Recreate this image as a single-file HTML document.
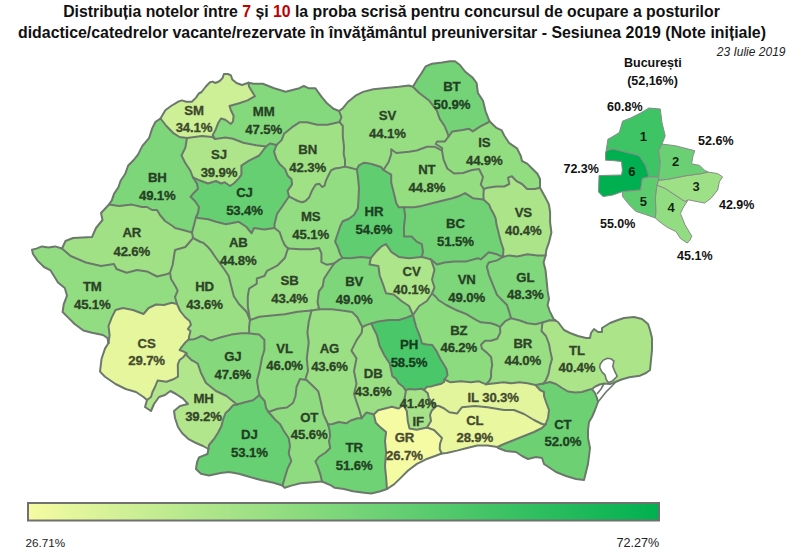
<!DOCTYPE html>
<html><head><meta charset="utf-8"><style>
html,body{margin:0;padding:0;background:#fff;}
body{width:789px;height:549px;overflow:hidden;position:relative;}
.t{position:absolute;left:0;width:789px;text-align:center;font:bold 15.8px "Liberation Sans",Arial,sans-serif;color:#111;white-space:nowrap;}
.t b{color:#c00000;}
svg{position:absolute;left:0;top:0;}
</style></head><body>
<div class="t" style="top:3px;left:-3px">Distribuția notelor între <b>7</b> și <b>10</b> la proba scrisă pentru concursul de ocupare a posturilor</div>
<div class="t" style="top:24px;left:-2.5px;font-size:15.9px">didactice/catedrelor vacante/rezervate în învăţământul preuniversitar - Sesiunea 2019 (Note inițiale)</div>
<svg width="789" height="549" viewBox="0 0 789 549">
<defs><linearGradient id="lg" x1="0" x2="1" y1="0" y2="0"><stop offset="0" stop-color="rgb(245, 251, 162)"/><stop offset="1" stop-color="rgb(0, 176, 80)"/></linearGradient></defs>
<g stroke="none">
<path d="M160.5,118.5 165.3,110.2 171,106 177.9,101.8 182,100.4 186.2,101.8 191.8,101.8 196,97.6 198.8,93.5 201.6,92 205.8,86.5 210,82.3 212.7,81.6 215.5,83 219.7,81 222.5,78.1 223.9,74 228,74 230.9,75.3 232.3,79.5 236.5,83 242,85 248.4,82.7 249,86.5 253.2,93.5 255,96.2 247.6,100.4 239.2,103.2 229.5,106 230.9,110.2 233.6,115.8 233,121.3 230.9,124 225.3,119.8 221,118.5 218.3,122.7 215.5,130 212.7,135 215,139 212,137 202,136 187,138 179.5,137 173,132.8 166.4,126Z" fill="#cdef95"/>
<path d="M248.4,82.7 253.7,83.7 262.8,83.7 274.2,88.2 285.6,91.7 299.3,88.2 303.8,86 308.4,88.2 315.3,88.2 318.7,92.8 322,97.4 326.7,103 333.5,108.8 339,111 341.5,117.2 339.5,122 327.5,124.8 317.3,124.8 307,122.3 299.4,122.3 291.8,127.4 284.1,133.7 281.6,140.1 276.5,145 270,143.5 266,146.5 256,145.2 243.3,142.7 233,138.8 225.5,137.6 215,139 212.7,135 215.5,130 218.3,122.7 221,118.5 225.3,119.8 230.9,124 233,121.3 233.6,115.8 230.9,110.2 229.5,106 239.2,103.2 247.6,100.4 255,96.2 253.2,93.5 249,86.5Z" fill="#85d97d"/>
<path d="M339,111 342.7,108.4 347.8,102 355.5,95.7 363,91.9 373.3,89.3 386,88 398.8,86.8 409,85.5 412.9,86.8 419.2,93 429.4,100.8 437,111 439.6,118.6 444.7,126.3 447.3,132.7 448.6,136.5 444.7,141.6 437,141.6 435.8,144 442.2,148 442,150.5 434.5,146.7 426.9,146.7 416.7,150.5 409,151.8 396.3,153 391.2,149.2 391.2,154.3 388.6,162 383.5,170 381,167 373.3,164.5 369.2,163.4 364.1,162.7 359,165.3 356.8,169.5 355.2,169.1 350.1,167.8 345,166.6 345,160.2 343.7,153.8 344,146.5 342.8,136.3 342.8,126 339.5,122 341.5,117.2Z" fill="#97de83"/>
<path d="M412.9,86.8 416.7,80.4 421.8,72.7 425.6,66.4 432,63.8 442.2,62.5 449.8,61.3 455,61.3 460,65 465,71.5 472.8,77.8 476.6,83 477.9,93 483,100.8 485.5,111 489.5,121.3 488,122.5 480.4,126.3 472.8,131.4 469,128.8 462.6,130 452.4,131.4 448.6,136.5 447.3,132.7 444.7,126.3 439.6,118.6 437,111 429.4,100.8 419.2,93Z" fill="#73d376"/>
<path d="M489.5,121.3 496.5,127.9 501.7,130.4 504.2,135.5 509.3,143.2 517,148.3 520.8,156 522,161 527.2,163.6 532.3,168.7 537.4,173.8 540,179 540,187.8 534.8,189 527.2,189 522,184 517,181.4 514.4,179 511.9,176.3 508,177.6 509.3,184 504.2,186.5 496.5,186.5 487.6,187.8 483.8,189 480.8,184.5 483,177 479,169 472,170 463,173 454,173.5 447.3,168.5 443.5,159.4 442,150.5 442.2,148 435.8,144 437,141.6 444.7,141.6 448.6,136.5 452.4,131.4 462.6,130 469,128.8 472.8,131.4 480.4,126.3 488,122.5Z" fill="#93dd81"/>
<path d="M383.5,170 388.6,162 391.2,154.3 391.2,149.2 396.3,153 409,151.8 416.7,150.5 426.9,146.7 434.5,146.7 442,150.5 443.5,159.4 447.3,168.5 454,173.5 463,173 472,170 479,169 483,177 480.8,184.5 483.8,189 483.5,194 483.5,199.5 472.8,198.2 465.1,193.1 460,195.7 452.4,198.2 442.2,200.8 432,203.3 421.8,205.9 414,207.2 404,207.2 398.8,207.2 396.3,203.3 393.7,192.6 391.2,182.4 391.2,174.7Z" fill="#94dd81"/>
<path d="M540,187.8 545,196.8 548.9,204.4 550.1,212 550.1,222.3 551.4,232.5 548.9,242.7 546.3,250 545.6,255.4 537.5,255.4 527.4,254.3 517.2,256.4 509,255.4 503,257 503.4,249.2 500.8,241.6 499.1,235 498.3,231.4 496.5,224.8 495.7,218.6 494,214.6 490.6,208.4 489,204.4 483.5,199.5 483.5,194 483.8,189 487.6,187.8 496.5,186.5 504.2,186.5 509.3,184 508,177.6 511.9,176.3 514.4,179 517,181.4 522,184 527.2,189 534.8,189Z" fill="#abe489"/>
<path d="M109,204.5 111.8,200.4 114,193.9 118.4,187.3 120.6,180.8 125,174.3 128.2,165.5 133.7,160 138,154.6 142.4,145.9 149,138.2 152.2,128.4 155.5,121.8 160.5,118.5 166.4,126 173,132.8 179.5,137 187,138 185.3,147.8 181.5,155.5 185.3,163 190.4,170.8 193,177.5 197,183.6 198,188.7 193,193.8 190.5,196.8 195,201 199,207 198,213 196,217 194,225 192,232.5 183,230 175,228 172.6,226 165,221 160,215 157,210 152,210 147,207 142,207 132,204.6 119,206Z" fill="#7dd67a"/>
<path d="M187,138 202,136 212,137 215,139 225.5,137.6 233,138.8 243.3,142.7 256,145.2 266,146.5 259.2,155.5 249,160.6 241.4,165.7 241.4,174.6 238.8,178.4 233.7,183.5 230,186 224.8,182.3 221,183.5 216,181 208,183.5 198,179.7 193,177.5 190.4,170.8 185.3,163 181.5,155.5 185.3,147.8Z" fill="#aee58a"/>
<path d="M193,177.5 198,179.7 208,183.5 216,181 221,183.5 224.8,182.3 230,186 233.7,183.5 238.8,178.4 241.4,174.6 241.4,165.7 249,160.6 259.2,155.5 266,146.5 270,143.5 276.5,145 274,151.6 276.5,159.2 280,164.5 282.5,166.6 285.1,169.1 287.6,175.5 291.5,179.3 292.1,184.4 287.6,190.8 289,196.5 282.2,206.5 277,214 274.5,224.3 274.5,228 264.3,229.4 254,228 251.6,233.3 246.5,227 238.8,221.8 226,224.3 216,221.8 208.2,219.2 198,218 196,217 198,213 199,207 195,201 190.5,196.8 193,193.8 198,188.7 197,183.6Z" fill="#65cf72"/>
<path d="M276.5,145 281.6,140.1 284.1,133.7 291.8,127.4 299.4,122.3 307,122.3 317.3,124.8 327.5,124.8 339.5,122 342.8,126 342.8,136.3 344,146.5 343.7,153.8 345,160.2 345,166.6 339.9,167.8 334.8,168.5 331,170.4 328.4,175.5 325.9,180.6 324.6,185.7 322,187 319.5,183.8 315.7,184.4 311.9,190.8 309.3,197.2 305.5,201 302.3,202.3 297.8,201 292.7,198.4 289,196.5 287.6,190.8 292.1,184.4 291.5,179.3 287.6,175.5 285.1,169.1 282.5,166.6 280,164.5 276.5,159.2 274,151.6Z" fill="#a1e186"/>
<path d="M289,196.5 292.7,198.4 297.8,201 302.3,202.3 305.5,201 309.3,197.2 311.9,190.8 315.7,184.4 319.5,183.8 322,187 324.6,185.7 325.9,180.6 328.4,175.5 331,170.4 334.8,168.5 339.9,167.8 345,166.6 350.1,167.8 355.2,169.1 356.8,169.5 357.8,175.5 359,188.2 358.4,201 357.8,208.6 354,215 348.5,219 342.7,221.2 340.2,226.3 337.6,234 335.1,241.6 337.6,246.7 340.2,254.3 342.5,258 339.3,259.6 334.2,263.4 326.6,264.7 321.4,262.1 321.4,253.2 319,248 311.2,249.3 301,249.3 288,248.5 284.7,245 282.2,239.6 279.6,232 274.5,228 274.5,224.3 277,214 282.2,206.5Z" fill="#92dd81"/>
<path d="M356.8,169.5 359,165.3 364.1,162.7 369.2,163.4 373.3,164.5 381,167 383.5,170 391.2,174.7 391.2,182.4 393.7,192.6 396.3,203.3 398.8,207.2 404,207.2 405.2,216 404,226.3 404,236.5 411.6,236.5 416.7,241.6 421.8,244.1 423,251.8 421.8,257 409,258.2 398.8,256.9 391.2,251.8 386,244.1 381,246.7 376,251.8 370.8,258 360.6,256.9 350.4,258.2 342.5,258 340.2,254.3 337.6,246.7 335.1,241.6 337.6,234 340.2,226.3 342.7,221.2 348.5,219 354,215 357.8,208.6 358.4,201 359,188.2 357.8,175.5Z" fill="#5fcd70"/>
<path d="M404,207.2 414,207.2 421.8,205.9 432,203.3 442.2,200.8 452.4,198.2 460,195.7 465.1,193.1 472.8,198.2 483.5,199.5 489,204.4 490.6,208.4 494,214.6 495.7,218.6 496.5,224.8 498.3,231.4 499.1,235 500.8,241.6 503.4,249.2 503,257 497,254.3 488.8,252.3 480.7,259.4 477.9,258.2 466.5,261.4 454.3,261.4 444.7,262.5 437,264.5 431,259.5 426.9,258.2 421.8,257 423,251.8 421.8,244.1 416.7,241.6 411.6,236.5 404,236.5 404,226.3 405.2,216Z" fill="#70d275"/>
<path d="M62,248.5 65.5,241 73,238 92,237 96,228 102.5,220 101,213 109,204.5 119,206 132,204.6 142,207 147,207 152,210 157,210 160,215 165,221 172.6,226 175,228 183,230 192,232.5 193,238 191.8,239.5 185.4,247 175,250 174,256 172.6,265 170,272.7 167.5,274 157,276.5 147,271.4 137,270 126.7,272.7 116.5,269 114,264 101,266 86,262.5 70.6,256Z" fill="#a0e185"/>
<path d="M196,217 198,218 208.2,219.2 216,221.8 226,224.3 238.8,221.8 246.5,227 251.6,233.3 254,228 264.3,229.4 274.5,228 279.6,232 282.2,239.6 284.7,245 288,248.5 284.8,258 277.2,265.7 272,268.3 267,270.8 264.4,276 256.8,278.5 256.8,283.6 249.1,288.7 247.8,296.3 247.8,306.5 250,320 246.5,311.7 238.9,304 233.8,296.3 231.2,286.1 228.7,276 223.6,268.3 216,258 210.8,250.4 208.2,247.3 203.2,242.8 200.6,242 193,238 192,232.5 194,225Z" fill="#94dd81"/>
<path d="M288,248.5 301,249.3 311.2,249.3 319,248 321.4,253.2 321.4,262.1 326.6,264.7 334.2,263.4 329,271 324,278.7 322.7,286.3 318.9,291.4 317.6,301.7 319,309.3 311.5,310.5 297.6,311.7 284.8,314.2 272,315.5 259.3,316.8 250,320 247.8,306.5 247.8,296.3 249.1,288.7 256.8,283.6 256.8,278.5 264.4,276 267,270.8 272,268.3 277.2,265.7 284.8,258Z" fill="#9be084"/>
<path d="M334.2,263.4 339.3,259.6 342.5,258 350.4,258.2 360.6,256.9 370.8,258 369.5,264.5 378.4,266 379.7,275.5 383.5,285.7 386,293.3 393.7,294.6 401.4,301 409,306 413,315 406.5,317.6 398.8,320 388.6,320 378.4,321.4 371.5,323.5 367.4,324.6 362.3,327 359.7,322 357.2,317 352,311.9 341.9,310.6 331.7,309.3 319,309.3 317.6,301.7 318.9,291.4 322.7,286.3 324,278.7 329,271Z" fill="#7dd67a"/>
<path d="M370.8,258 376,251.8 381,246.7 386,244.1 391.2,251.8 398.8,256.9 409,258.2 421.8,257 426.9,258.2 431,259.5 434.5,269.6 432,279.8 434.5,287.5 432,293.5 426.9,301 419.2,306 413,315 409,306 401.4,301 393.7,294.6 386,293.3 383.5,285.7 379.7,275.5 378.4,266 369.5,264.5Z" fill="#ade58a"/>
<path d="M431,259.5 437,264.5 444.7,262.5 454.3,261.4 466.5,261.4 477.9,258.2 480.7,259.4 488.8,252.3 497,254.3 503,257 497,260.4 488.8,262.5 486.8,266.5 488.8,274.6 492.9,284.8 497,294.9 503,301 507,305 509,311.1 511,318.2 505,321.3 500,327 497,325.3 490.9,323.3 480.7,322.3 474.6,319.2 466.8,314.3 456.7,310.3 446.2,305 438.4,300 436,297 432,293.5 434.5,287.5 432,279.8 434.5,269.6Z" fill="#7dd67a"/>
<path d="M503,257 509,255.4 517.2,256.4 527.4,254.3 537.5,255.4 545.6,255.4 543.6,262.5 545.6,270.6 546.6,280.7 547.6,290.9 549,299 547.6,305 549.7,311.1 553.7,319.2 555.5,320.5 549.7,320.3 542.5,322.5 535.5,324.3 527.4,323.3 519.2,320.3 511,318.2 509,311.1 507,305 503,301 497,294.9 492.9,284.8 488.8,274.6 486.8,266.5 488.8,262.5 497,260.4Z" fill="#81d77b"/>
<path d="M108.5,343 107.4,338 103,335 92,332.7 83.4,330.5 74.6,324 68,317.4 62.6,312 63.7,304.3 67,295.6 64.8,288 58,282.5 54,276 50.6,270.4 44,267 37.5,260.6 33,254 32,249.7 36.4,248.6 41.9,246.4 48.4,247.5 55,246.4 62,248.5 70.6,256 86,262.5 101,266 114,264 116.5,269 126.7,272.7 137,270 147,271.4 157,276.5 167.5,274 170,272.7 171,279 175,285.5 177.7,290.6 175,297 177,304 171.6,302.7 164,305 156,304.5 148.6,308 143.5,314 133,310 123,308 115.5,310 111.8,317.4 108.5,326 109.6,335Z" fill="#92dd81"/>
<path d="M170,272.7 172.6,265 174,256 175,250 185.4,247 191.8,239.5 193,238 200.6,242 203.2,242.8 208.2,247.3 210.8,250.4 216,258 223.6,268.3 228.7,276 231.2,286.1 233.8,296.3 238.9,304 246.5,311.7 250,320 249.1,327 249.1,333.3 241.4,333.3 231.2,334.6 221,337.2 215,339.1 211.4,340.5 208.7,339.6 204.2,336.8 201.4,336 196.9,338.2 192.3,339.6 188.7,339.6 189.1,336.4 190.5,331 187.8,329 191,324.6 189.6,321 185,317 180.2,311 177,304 175,297 177.7,290.6 175,285.5 171,279Z" fill="#9adf84"/>
<path d="M147,400 143.5,397 136,392 125.7,389 115.5,384 105,376.7 100,371.6 101.5,359 105,348.6 108.5,343 109.6,335 108.5,326 111.8,317.4 115.5,310 123,308 133,310 143.5,314 148.6,308 156,304.5 164,305 171.6,302.7 177,304 180.2,311 185,317 189.6,321 191,324.6 187.8,329 190.5,331 189.1,336.4 188.7,339.6 185,342.8 181.4,347.3 179.6,350 183.2,351.4 186.4,353.2 183.2,357.3 179.6,360 177.8,364.6 178,376.7 174,379 166.5,381.8 157.6,380.5 155,387 152.5,392 151,397Z" fill="#e5f69d"/>
<path d="M188.7,339.6 192.3,339.6 196.9,338.2 201.4,336 204.2,336.8 208.7,339.6 211.4,340.5 215,339.1 221,337.2 231.2,334.6 241.4,333.3 249.1,333.3 259.3,334.6 264.4,339.7 264.4,350 262,357.8 259.6,370.6 257,380.8 258.4,390 259.5,395 253,400.3 243,402.8 237,404.5 226.5,396 216,391 206,383 201,373 197.8,363.7 194.1,361.4 191.4,360 186.9,355.5 186.4,353.2 183.2,351.4 179.6,350 181.4,347.3 185,342.8Z" fill="#85d97c"/>
<path d="M186.4,353.2 186.9,355.5 191.4,360 194.1,361.4 197.8,363.7 201,373 206,383 216,391 226.5,396 237,404.5 233,405.3 229,410 225.6,413 223,419.7 221.5,426 218,432.8 214,439 209,445 208.4,449 203,446 196,443 189,439.4 182,433 178,427 175,418 174,411 180,406 188,404 183,398.6 176,394 170.4,391 165,395 159,397 154,404 151,411 145,407 147,400 151,397 152.5,392 155,387 157.6,380.5 166.5,381.8 174,379 178,376.7 177.8,364.6 179.6,360 183.2,357.3Z" fill="#b2e68c"/>
<path d="M250,320 259.3,316.8 272,315.5 284.8,314.2 297.6,311.7 311.5,310.5 308.7,322 307.4,332.3 308.7,342.5 306.8,358.3 308,371 305.5,378.7 306.5,380 300,379 296.5,387 295.5,396 293,403 287,407.5 277.5,408.8 268.5,412 266,408 264.7,401 260.5,396.5 259.5,395 258.4,390 257,380.8 259.6,370.6 262,357.8 264.4,350 264.4,339.7 259.3,334.6 249.1,333.3 249.1,327Z" fill="#8ddb7f"/>
<path d="M311.5,310.5 319,309.3 331.7,309.3 341.9,310.6 352,311.9 357.2,317 359.7,322 362.3,327 361.7,332.8 356.5,340.4 351.4,350.6 356.5,358.3 354,371 356.5,383.8 354,394 356.5,401.7 359.1,409.3 361.7,418.2 357.6,418.3 350.7,420.5 346.3,423.3 338.7,422 332.5,424 328,424.5 326,420 323.4,414.4 320.8,401.7 318.3,391.4 313.2,386.3 306.5,380 305.5,378.7 308,371 306.8,358.3 308.7,342.5 307.4,332.3 308.7,322Z" fill="#9adf84"/>
<path d="M362.3,327 367.4,324.6 371.5,323.5 371.9,325.1 377,335.3 379.5,345.5 384.6,355.7 389.7,363.4 392.3,376.1 395.9,378.6 398.6,383.2 403.2,386.8 405.5,390 405.9,391.4 405,396 403.5,405 398.6,408.5 391.8,406.8 385,408.5 378.1,410.3 373.8,414.5 371.3,413.7 366.5,412.5 361.7,418.2 359.1,409.3 356.5,401.7 354,394 356.5,383.8 354,371 356.5,358.3 351.4,350.6 356.5,340.4 361.7,332.8Z" fill="#9adf84"/>
<path d="M371.5,323.5 378.4,321.4 388.6,320 398.8,320 406.5,317.6 413,315 416,326.5 420,336.7 422,343.5 427,344.5 432.3,345 436.4,350.9 440.4,359 443.5,364 446.5,369 447.5,375.2 444.5,379.5 444.1,381.8 440.5,384.1 436,385 431.4,386.4 426.9,386.8 424,390 421.4,388.7 415,389.6 409.6,389.1 405.5,390 403.2,386.8 398.6,383.2 395.9,378.6 392.3,376.1 389.7,363.4 384.6,355.7 379.5,345.5 377,335.3 371.9,325.1Z" fill="#4ac769"/>
<path d="M413,315 419.2,306 426.9,301 432,293.5 436,297 438.4,300 446.2,305 456.7,310.3 466.8,314.3 474.6,319.2 480.7,322.3 490.9,323.3 497,325.3 500,327 500.3,332.6 497.2,338.7 491.1,340.7 485,340.7 481,344.8 482,348.8 487.1,352.9 491.1,357 492.2,365 491.1,371.1 491.1,377.2 489.1,381.3 486,384.3 479,381.3 470.9,382.3 460.7,381.3 450.6,382.3 444.5,379.5 447.5,375.2 446.5,369 443.5,364 440.4,359 436.4,350.9 432.3,345 427,344.5 422,343.5 420,336.7 416,326.5Z" fill="#8cdb7f"/>
<path d="M500,327 505,321.3 511,318.2 519.2,320.3 527.4,323.3 535.5,324.3 542.5,322.5 541.5,331 546,336 549,344 550.5,352 552,359 550,366 548.5,374 546,380 543.5,383.5 535.5,385 527.6,383.3 519.5,382.3 511.4,383.3 503.3,382.3 495.2,383.3 486,384.3 489.1,381.3 491.1,377.2 491.1,371.1 492.2,365 491.1,357 487.1,352.9 482,348.8 481,344.8 485,340.7 491.1,340.7 497.2,338.7 500.3,332.6Z" fill="#98df83"/>
<path d="M542.5,322.5 549.7,320.3 555.5,320.5 558,322 564,330 570,333 578,336 586,338 590,338 591,333 594,329 598,332 602,332 602,328 610,323 618,320 624,318 634,317 642,319 648,324 650,330 652,338 652,350 651,360 650,370 646,373 640,375.7 629.2,377.3 621.5,379.5 616,381.7 610.6,383.9 604,383.5 599.7,384.5 595.3,386.5 592,389 588,390 582,392 575,392.5 568,391.5 562,388 556,384 550,382 543.5,383.5 546,380 548.5,374 550,366 552,359 550.5,352 549,344 546,336 541.5,331Z" fill="#abe489"/>
<path d="M543.5,383.5 550,382 556,384 562,388 568,391.5 575,392.5 582,392 588,390 592,389 595,393 597,398 598,402 595,410 592,417 589,422 588,430 588,438 590,448 589,456 588,464 586,472 584,480 576,479 566,476 556,472 550,468 544,464 542,458 536,457 528,459 522,456 516,452 506,451 498,448 497.5,447 504,444 514,440 524,436 534,432 542,428 545.5,424.5 548,418 549,410 546,402 544,396 544,392 540,390 535.5,385Z" fill="#6dd174"/>
<path d="M424,390 426.9,386.8 431.4,386.4 436,385 440.5,384.1 444.1,381.8 444.5,379.5 450.6,382.3 460.7,381.3 470.9,382.3 479,381.3 486,384.3 495.2,383.3 503.3,382.3 511.4,383.3 519.5,382.3 527.6,383.3 535.5,385 540,390 544,392 544,396 546,402 549,410 548,418 545.5,424.5 542,424 534,420 524,414 514,410 504,410 492,408 487.6,407.2 474.8,406 462,407.2 457,413.6 449.3,412.3 444.2,408.5 439,406 436.5,406 432.3,403.2 428.7,397.8 427.8,393.2Z" fill="#e2f59c"/>
<path d="M436.5,406 439,406 444.2,408.5 449.3,412.3 457,413.6 462,407.2 474.8,406 487.6,407.2 492,408 504,410 514,410 524,414 534,420 542,424 545.5,424.5 542,428 534,432 524,436 514,440 504,444 497.5,447 487.6,445.5 477.3,445.5 467.1,448 457,450.6 446.7,453 441.6,453.5 439.7,449 440,444 442,438 434,430 427,427.5 431,421 430,415 431.8,410.4Z" fill="#e9f79e"/>
<path d="M405.5,390 409.6,389.1 415,389.6 421.4,388.7 424,390 427.8,393.2 428.7,397.8 432.3,403.2 436.5,406 431.8,410.4 430,415 431,421 427,427.5 416.6,429.8 409.5,428.5 407.8,421.2 406.8,411 403.5,405 405,396 405.9,391.4Z" fill="#a6e388"/>
<path d="M373.8,414.5 378.1,410.3 385,408.5 391.8,406.8 398.6,408.5 403.5,405 406.8,411 407.8,421.2 409.5,428.5 416.6,429.8 427,427.5 434,430 442,438 440,444 439.7,449 441.6,453.5 435.1,456 426,459.3 416.9,463.9 407.8,470.7 401,477.6 394,484.4 387,489 386.1,477.6 385,466.2 386.1,452.5 385,441 386.1,432 380.4,427.4 375.8,422.8Z" fill="#f5fba2"/>
<path d="M361.7,418.2 366.5,412.5 371.3,413.7 373.8,414.5 375.8,422.8 380.4,427.4 386.1,432 385,441 386.1,452.5 385,466.2 386.1,477.6 387,489 380.4,491.3 371.3,493.5 362.1,492.4 353,491.3 343.9,489 334.8,487.8 331,485.3 322,481.5 320.4,474.6 317.8,466.6 315.4,461.6 318.8,457 325.6,452.5 330.2,448 329,441 330.2,436 329.5,430 328,424.5 332.5,424 338.7,422 346.3,423.3 350.7,420.5 357.6,418.3Z" fill="#6fd275"/>
<path d="M306.5,380 313.2,386.3 318.3,391.4 320.8,401.7 323.4,414.4 326,420 328,424.5 329.5,430 330.2,436 329,441 330.2,448 325.6,452.5 318.8,457 315.4,461.6 317.8,466.6 320.4,474.6 322,481.5 309.8,482.6 300.5,483.3 291.4,485.6 284.6,487.8 282.5,485.5 283.7,481.4 287.5,468.7 291.3,461 288.7,453.5 290,446 288.7,438.3 283.7,430.7 280,424 276,420.6 272.4,416.5 268.5,412 277.5,408.8 287,407.5 293,403 295.5,396 296.5,387 300,379Z" fill="#8fdc80"/>
<path d="M237,404.5 243,402.8 253,400.3 259.5,395 260.5,396.5 264.7,401 266,408 268.5,412 272.4,416.5 276,420.6 280,424 283.7,430.7 288.7,438.3 290,446 288.7,453.5 291.3,461 287.5,468.7 283.7,481.4 282.5,485.5 273.5,482.7 260.8,480 250,477 238.7,473.8 229,472 220.7,473 209,475.4 201,473.8 196,469 197,462.3 199,457.4 207.5,454 208.4,449 209,445 214,439 218,432.8 221.5,426 223,419.7 225.6,413 229,410 233,405.3Z" fill="#67d073"/>
</g>
<g fill="#fff" stroke="#6c786c" stroke-width="1.6" stroke-linejoin="round"><path d="M600.2,364.2 L603,360.4 L607.3,358.2 L610.6,358.7 L613.9,361 L612.8,366.4 L615,371.9 L617.2,376.2 L612.8,380.6 L608.4,382.8 L606.2,379.5 L605.1,375.1 L601.9,371.9 L599.7,367.5Z"/>
<path fill="none" d="M616,381.7 L611,387 L606,392 L602,397 L598,402"/>
<path fill="none" d="M604,383.5 L601,389 L597,394"/></g>
<g fill="none" stroke="#6c786c" stroke-width="2" stroke-linejoin="round" stroke-linecap="round">
<path d="M160.5,118.5 165.3,110.2 171,106 177.9,101.8 182,100.4 186.2,101.8 191.8,101.8 196,97.6 198.8,93.5 201.6,92 205.8,86.5 210,82.3 212.7,81.6 215.5,83 219.7,81 222.5,78.1 223.9,74 228,74 230.9,75.3 232.3,79.5 236.5,83 242,85 248.4,82.7"/>
<path d="M248.4,82.7 253.7,83.7 262.8,83.7 274.2,88.2 285.6,91.7 299.3,88.2 303.8,86 308.4,88.2 315.3,88.2 318.7,92.8 322,97.4 326.7,103 333.5,108.8 339,111"/>
<path d="M339,111 342.7,108.4 347.8,102 355.5,95.7 363,91.9 373.3,89.3 386,88 398.8,86.8 409,85.5 412.9,86.8"/>
<path d="M412.9,86.8 416.7,80.4 421.8,72.7 425.6,66.4 432,63.8 442.2,62.5 449.8,61.3 455,61.3 460,65 465,71.5 472.8,77.8 476.6,83 477.9,93 483,100.8 485.5,111 489.5,121.3"/>
<path d="M489.5,121.3 496.5,127.9 501.7,130.4 504.2,135.5 509.3,143.2 517,148.3 520.8,156 522,161 527.2,163.6 532.3,168.7 537.4,173.8 540,179 540,187.8"/>
<path d="M540,187.8 545,196.8 548.9,204.4 550.1,212 550.1,222.3 551.4,232.5 548.9,242.7 546.3,250 545.6,255.4"/>
<path d="M545.6,255.4 543.6,262.5 545.6,270.6 546.6,280.7 547.6,290.9 549,299 547.6,305 549.7,311.1 553.7,319.2 555.5,320.5"/>
<path d="M555.5,320.5 558,322 564,330 570,333 578,336 586,338 590,338 591,333 594,329 598,332 602,332 602,328 610,323 618,320 624,318 634,317 642,319 648,324 650,330 652,338 652,350 651,360 650,370 646,373 640,375.7 629.2,377.3 621.5,379.5 616,381.7 610.6,383.9 604,383.5 599.7,384.5 595.3,386.5 592,389"/>
<path d="M592,389 595,393 597,398 598,402 595,410 592,417 589,422 588,430 588,438 590,448 589,456 588,464 586,472 584,480 576,479 566,476 556,472 550,468 544,464 542,458 536,457 528,459 522,456 516,452 506,451 498,448 497.5,447"/>
<path d="M497.5,447 487.6,445.5 477.3,445.5 467.1,448 457,450.6 446.7,453 441.6,453.5"/>
<path d="M441.6,453.5 435.1,456 426,459.3 416.9,463.9 407.8,470.7 401,477.6 394,484.4 387,489"/>
<path d="M387,489 380.4,491.3 371.3,493.5 362.1,492.4 353,491.3 343.9,489 334.8,487.8 331,485.3 322,481.5"/>
<path d="M322,481.5 309.8,482.6 300.5,483.3 291.4,485.6 284.6,487.8 282.5,485.5"/>
<path d="M282.5,485.5 273.5,482.7 260.8,480 250,477 238.7,473.8 229,472 220.7,473 209,475.4 201,473.8 196,469 197,462.3 199,457.4 207.5,454 208.4,449"/>
<path d="M208.4,449 203,446 196,443 189,439.4 182,433 178,427 175,418 174,411 180,406 188,404 183,398.6 176,394 170.4,391 165,395 159,397 154,404 151,411 145,407 147,400"/>
<path d="M147,400 143.5,397 136,392 125.7,389 115.5,384 105,376.7 100,371.6 101.5,359 105,348.6 108.5,343"/>
<path d="M108.5,343 107.4,338 103,335 92,332.7 83.4,330.5 74.6,324 68,317.4 62.6,312 63.7,304.3 67,295.6 64.8,288 58,282.5 54,276 50.6,270.4 44,267 37.5,260.6 33,254 32,249.7 36.4,248.6 41.9,246.4 48.4,247.5 55,246.4 62,248.5"/>
<path d="M62,248.5 65.5,241 73,238 92,237 96,228 102.5,220 101,213 109,204.5"/>
<path d="M109,204.5 111.8,200.4 114,193.9 118.4,187.3 120.6,180.8 125,174.3 128.2,165.5 133.7,160 138,154.6 142.4,145.9 149,138.2 152.2,128.4 155.5,121.8 160.5,118.5"/>
<path d="M160.5,118.5 166.4,126 173,132.8 179.5,137 187,138"/>
<path d="M187,138 202,136 212,137 215,139"/>
<path d="M248.4,82.7 249,86.5 253.2,93.5 255,96.2 247.6,100.4 239.2,103.2 229.5,106 230.9,110.2 233.6,115.8 233,121.3 230.9,124 225.3,119.8 221,118.5 218.3,122.7 215.5,130 212.7,135 215,139"/>
<path d="M215,139 225.5,137.6 233,138.8 243.3,142.7 256,145.2 266,146.5"/>
<path d="M266,146.5 270,143.5 276.5,145"/>
<path d="M339.5,122 327.5,124.8 317.3,124.8 307,122.3 299.4,122.3 291.8,127.4 284.1,133.7 281.6,140.1 276.5,145"/>
<path d="M276.5,145 274,151.6 276.5,159.2 280,164.5 282.5,166.6 285.1,169.1 287.6,175.5 291.5,179.3 292.1,184.4 287.6,190.8 289,196.5"/>
<path d="M187,138 185.3,147.8 181.5,155.5 185.3,163 190.4,170.8 193,177.5"/>
<path d="M193,177.5 198,179.7 208,183.5 216,181 221,183.5 224.8,182.3 230,186 233.7,183.5 238.8,178.4 241.4,174.6 241.4,165.7 249,160.6 259.2,155.5 266,146.5"/>
<path d="M193,177.5 197,183.6 198,188.7 193,193.8 190.5,196.8 195,201 199,207 198,213 196,217"/>
<path d="M196,217 194,225 192,232.5"/>
<path d="M109,204.5 119,206 132,204.6 142,207 147,207 152,210 157,210 160,215 165,221 172.6,226 175,228 183,230 192,232.5"/>
<path d="M192,232.5 193,238"/>
<path d="M193,238 191.8,239.5 185.4,247 175,250 174,256 172.6,265 170,272.7"/>
<path d="M62,248.5 70.6,256 86,262.5 101,266 114,264 116.5,269 126.7,272.7 137,270 147,271.4 157,276.5 167.5,274 170,272.7"/>
<path d="M170,272.7 171,279 175,285.5 177.7,290.6 175,297 177,304"/>
<path d="M108.5,343 109.6,335 108.5,326 111.8,317.4 115.5,310 123,308 133,310 143.5,314 148.6,308 156,304.5 164,305 171.6,302.7 177,304"/>
<path d="M177,304 180.2,311 185,317 189.6,321 191,324.6 187.8,329 190.5,331 189.1,336.4 188.7,339.6"/>
<path d="M188.7,339.6 185,342.8 181.4,347.3 179.6,350 183.2,351.4 186.4,353.2"/>
<path d="M186.4,353.2 183.2,357.3 179.6,360 177.8,364.6 178,376.7 174,379 166.5,381.8 157.6,380.5 155,387 152.5,392 151,397 147,400"/>
<path d="M186.4,353.2 186.9,355.5 191.4,360 194.1,361.4 197.8,363.7 201,373 206,383 216,391 226.5,396 237,404.5"/>
<path d="M188.7,339.6 192.3,339.6 196.9,338.2 201.4,336 204.2,336.8 208.7,339.6 211.4,340.5 215,339.1 221,337.2 231.2,334.6 241.4,333.3 249.1,333.3"/>
<path d="M249.1,333.3 259.3,334.6 264.4,339.7 264.4,350 262,357.8 259.6,370.6 257,380.8 258.4,390 259.5,395"/>
<path d="M250,320 249.1,327 249.1,333.3"/>
<path d="M193,238 200.6,242 203.2,242.8 208.2,247.3 210.8,250.4 216,258 223.6,268.3 228.7,276 231.2,286.1 233.8,296.3 238.9,304 246.5,311.7 250,320"/>
<path d="M288,248.5 284.8,258 277.2,265.7 272,268.3 267,270.8 264.4,276 256.8,278.5 256.8,283.6 249.1,288.7 247.8,296.3 247.8,306.5 250,320"/>
<path d="M274.5,228 279.6,232 282.2,239.6 284.7,245 288,248.5"/>
<path d="M196,217 198,218 208.2,219.2 216,221.8 226,224.3 238.8,221.8 246.5,227 251.6,233.3 254,228 264.3,229.4 274.5,228"/>
<path d="M289,196.5 282.2,206.5 277,214 274.5,224.3 274.5,228"/>
<path d="M289,196.5 292.7,198.4 297.8,201 302.3,202.3 305.5,201 309.3,197.2 311.9,190.8 315.7,184.4 319.5,183.8 322,187 324.6,185.7 325.9,180.6 328.4,175.5 331,170.4 334.8,168.5 339.9,167.8 345,166.6"/>
<path d="M356.8,169.5 357.8,175.5 359,188.2 358.4,201 357.8,208.6 354,215 348.5,219 342.7,221.2 340.2,226.3 337.6,234 335.1,241.6 337.6,246.7 340.2,254.3 342.5,258"/>
<path d="M345,166.6 350.1,167.8 355.2,169.1 356.8,169.5"/>
<path d="M339.5,122 342.8,126 342.8,136.3 344,146.5 343.7,153.8 345,160.2 345,166.6"/>
<path d="M339,111 341.5,117.2 339.5,122"/>
<path d="M356.8,169.5 359,165.3 364.1,162.7 369.2,163.4 373.3,164.5 381,167 383.5,170"/>
<path d="M383.5,170 391.2,174.7 391.2,182.4 393.7,192.6 396.3,203.3 398.8,207.2 404,207.2"/>
<path d="M383.5,170 388.6,162 391.2,154.3 391.2,149.2 396.3,153 409,151.8 416.7,150.5 426.9,146.7 434.5,146.7 442,150.5"/>
<path d="M448.6,136.5 444.7,141.6 437,141.6 435.8,144 442.2,148 442,150.5"/>
<path d="M412.9,86.8 419.2,93 429.4,100.8 437,111 439.6,118.6 444.7,126.3 447.3,132.7 448.6,136.5"/>
<path d="M448.6,136.5 452.4,131.4 462.6,130 469,128.8 472.8,131.4 480.4,126.3 488,122.5 489.5,121.3"/>
<path d="M442,150.5 443.5,159.4 447.3,168.5 454,173.5 463,173 472,170 479,169 483,177 480.8,184.5 483.8,189"/>
<path d="M483.8,189 487.6,187.8 496.5,186.5 504.2,186.5 509.3,184 508,177.6 511.9,176.3 514.4,179 517,181.4 522,184 527.2,189 534.8,189 540,187.8"/>
<path d="M483.8,189 483.5,194 483.5,199.5"/>
<path d="M404,207.2 414,207.2 421.8,205.9 432,203.3 442.2,200.8 452.4,198.2 460,195.7 465.1,193.1 472.8,198.2 483.5,199.5"/>
<path d="M483.5,199.5 489,204.4 490.6,208.4 494,214.6 495.7,218.6 496.5,224.8 498.3,231.4 499.1,235 500.8,241.6 503.4,249.2 503,257"/>
<path d="M404,207.2 405.2,216 404,226.3 404,236.5 411.6,236.5 416.7,241.6 421.8,244.1 423,251.8 421.8,257"/>
<path d="M370.8,258 376,251.8 381,246.7 386,244.1 391.2,251.8 398.8,256.9 409,258.2 421.8,257"/>
<path d="M342.5,258 350.4,258.2 360.6,256.9 370.8,258"/>
<path d="M334.2,263.4 339.3,259.6 342.5,258"/>
<path d="M288,248.5 301,249.3 311.2,249.3 319,248 321.4,253.2 321.4,262.1 326.6,264.7 334.2,263.4"/>
<path d="M334.2,263.4 329,271 324,278.7 322.7,286.3 318.9,291.4 317.6,301.7 319,309.3"/>
<path d="M311.5,310.5 319,309.3"/>
<path d="M250,320 259.3,316.8 272,315.5 284.8,314.2 297.6,311.7 311.5,310.5"/>
<path d="M311.5,310.5 308.7,322 307.4,332.3 308.7,342.5 306.8,358.3 308,371 305.5,378.7 306.5,380"/>
<path d="M319,309.3 331.7,309.3 341.9,310.6 352,311.9 357.2,317 359.7,322 362.3,327"/>
<path d="M362.3,327 367.4,324.6 371.5,323.5"/>
<path d="M371.5,323.5 378.4,321.4 388.6,320 398.8,320 406.5,317.6 413,315"/>
<path d="M370.8,258 369.5,264.5 378.4,266 379.7,275.5 383.5,285.7 386,293.3 393.7,294.6 401.4,301 409,306 413,315"/>
<path d="M431,259.5 434.5,269.6 432,279.8 434.5,287.5 432,293.5"/>
<path d="M421.8,257 426.9,258.2 431,259.5"/>
<path d="M431,259.5 437,264.5 444.7,262.5 454.3,261.4 466.5,261.4 477.9,258.2 480.7,259.4 488.8,252.3 497,254.3 503,257"/>
<path d="M432,293.5 426.9,301 419.2,306 413,315"/>
<path d="M503,257 497,260.4 488.8,262.5 486.8,266.5 488.8,274.6 492.9,284.8 497,294.9 503,301 507,305 509,311.1 511,318.2"/>
<path d="M503,257 509,255.4 517.2,256.4 527.4,254.3 537.5,255.4 545.6,255.4"/>
<path d="M432,293.5 436,297 438.4,300 446.2,305 456.7,310.3 466.8,314.3 474.6,319.2 480.7,322.3 490.9,323.3 497,325.3 500,327"/>
<path d="M500,327 505,321.3 511,318.2"/>
<path d="M511,318.2 519.2,320.3 527.4,323.3 535.5,324.3 542.5,322.5"/>
<path d="M542.5,322.5 549.7,320.3 555.5,320.5"/>
<path d="M542.5,322.5 541.5,331 546,336 549,344 550.5,352 552,359 550,366 548.5,374 546,380 543.5,383.5"/>
<path d="M500,327 500.3,332.6 497.2,338.7 491.1,340.7 485,340.7 481,344.8 482,348.8 487.1,352.9 491.1,357 492.2,365 491.1,371.1 491.1,377.2 489.1,381.3 486,384.3"/>
<path d="M486,384.3 495.2,383.3 503.3,382.3 511.4,383.3 519.5,382.3 527.6,383.3 535.5,385"/>
<path d="M535.5,385 543.5,383.5"/>
<path d="M543.5,383.5 550,382 556,384 562,388 568,391.5 575,392.5 582,392 588,390 592,389"/>
<path d="M535.5,385 540,390 544,392 544,396 546,402 549,410 548,418 545.5,424.5"/>
<path d="M545.5,424.5 542,428 534,432 524,436 514,440 504,444 497.5,447"/>
<path d="M436.5,406 439,406 444.2,408.5 449.3,412.3 457,413.6 462,407.2 474.8,406 487.6,407.2 492,408 504,410 514,410 524,414 534,420 542,424 545.5,424.5"/>
<path d="M444.5,379.5 450.6,382.3 460.7,381.3 470.9,382.3 479,381.3 486,384.3"/>
<path d="M413,315 416,326.5 420,336.7 422,343.5 427,344.5 432.3,345 436.4,350.9 440.4,359 443.5,364 446.5,369 447.5,375.2 444.5,379.5"/>
<path d="M424,390 426.9,386.8 431.4,386.4 436,385 440.5,384.1 444.1,381.8 444.5,379.5"/>
<path d="M405.5,390 409.6,389.1 415,389.6 421.4,388.7 424,390"/>
<path d="M424,390 427.8,393.2 428.7,397.8 432.3,403.2 436.5,406"/>
<path d="M371.5,323.5 371.9,325.1 377,335.3 379.5,345.5 384.6,355.7 389.7,363.4 392.3,376.1 395.9,378.6 398.6,383.2 403.2,386.8 405.5,390"/>
<path d="M405.5,390 405.9,391.4 405,396 403.5,405"/>
<path d="M403.5,405 406.8,411 407.8,421.2 409.5,428.5 416.6,429.8 427,427.5"/>
<path d="M436.5,406 431.8,410.4 430,415 431,421 427,427.5"/>
<path d="M427,427.5 434,430 442,438 440,444 439.7,449 441.6,453.5"/>
<path d="M373.8,414.5 378.1,410.3 385,408.5 391.8,406.8 398.6,408.5 403.5,405"/>
<path d="M373.8,414.5 375.8,422.8 380.4,427.4 386.1,432 385,441 386.1,452.5 385,466.2 386.1,477.6 387,489"/>
<path d="M361.7,418.2 366.5,412.5 371.3,413.7 373.8,414.5"/>
<path d="M362.3,327 361.7,332.8 356.5,340.4 351.4,350.6 356.5,358.3 354,371 356.5,383.8 354,394 356.5,401.7 359.1,409.3 361.7,418.2"/>
<path d="M328,424.5 332.5,424 338.7,422 346.3,423.3 350.7,420.5 357.6,418.3 361.7,418.2"/>
<path d="M306.5,380 313.2,386.3 318.3,391.4 320.8,401.7 323.4,414.4 326,420 328,424.5"/>
<path d="M328,424.5 329.5,430 330.2,436 329,441 330.2,448 325.6,452.5 318.8,457 315.4,461.6 317.8,466.6 320.4,474.6 322,481.5"/>
<path d="M268.5,412 277.5,408.8 287,407.5 293,403 295.5,396 296.5,387 300,379 306.5,380"/>
<path d="M268.5,412 272.4,416.5 276,420.6 280,424 283.7,430.7 288.7,438.3 290,446 288.7,453.5 291.3,461 287.5,468.7 283.7,481.4 282.5,485.5"/>
<path d="M259.5,395 260.5,396.5 264.7,401 266,408 268.5,412"/>
<path d="M237,404.5 243,402.8 253,400.3 259.5,395"/>
<path d="M237,404.5 233,405.3 229,410 225.6,413 223,419.7 221.5,426 218,432.8 214,439 209,445 208.4,449"/>
</g>
<g stroke="#8a8a8a" stroke-width="1" stroke-linejoin="round">
<path d="M607.9,139.2 611.1,137.5 619.3,132.6 622.6,121.1 630.8,117.9 640.7,113 648.9,108 660.3,109 662,122.8 663.6,129.3 665.2,135.9 662,144.1 658.7,150.7 660.3,162.1 658.7,176.9 648.9,176.9 645.6,165.4 639,155.6 625.9,152.3 612.8,149 606.2,150.7Z" fill="#3ec365"/>
<path d="M606.2,150.7 612.8,149 625.9,152.3 639,155.6 645.6,165.4 648.9,176.9 642.3,178.5 640.7,190 622.6,191.6 612.8,195 603,196.6 598.5,192 599,175.6 612,175.2 621.5,175 622.3,170.3 621.5,161.5 612,160.5 605.5,160.2 605.5,153Z" fill="#00b050"/>
<path d="M642.3,178.5 648.9,176.9 658.7,176.9 658.7,180.2 657,185.1 655.4,198.2 656,211.3 655.4,217.9 645.6,214.6 635.7,211.3 629.2,204.8 622.6,196.6 622.6,191.6 640.7,190Z" fill="#5dcc6f"/>
<path d="M657,185.1 665.2,188.4 675.1,195 684.9,201.5 688.2,199.8 683,208 680.4,213.4 685,224.8 691.8,236.2 690,240 687.3,243 680.4,238.5 676,231.6 666.7,227 657.6,220.2 655.4,217.9 656,211.3 655.4,198.2Z" fill="#92dd81"/>
<path d="M658.7,180.2 668.5,179.2 684.9,175.9 701.3,173.6 707.9,172 717.7,173.6 722.6,176.9 719.3,181.8 717.7,190 711.1,198.2 704.6,203.1 688.2,199.8 684.9,201.5 675.1,195 665.2,188.4 657,185.1Z" fill="#9ee085"/>
<path d="M662,144.1 675.1,145.7 694.8,150.7 693.1,155.6 691.5,163.8 699.7,165.4 704.6,170.3 707.9,172 701.3,173.6 684.9,175.9 668.5,179.2 658.7,180.2 658.7,176.9 660.3,162.1 658.7,150.7Z" fill="#6ad073"/>
</g>
<g font-family="Liberation Sans, Arial, sans-serif" font-weight="bold" font-size="13.2" letter-spacing="-0.15" stroke-width="0.3" text-anchor="middle" dominant-baseline="central">
<g fill="#3e482d" stroke="#3e482d"><text x="194" y="110">SM</text><text x="194" y="127.6">34.1%</text></g>
<g fill="#284125" stroke="#284125"><text x="263.7" y="111.3">MM</text><text x="263.7" y="129.4">47.5%</text></g>
<g fill="#304428" stroke="#304428"><text x="307.7" y="149.6">BN</text><text x="307.7" y="167.5">42.3%</text></g>
<g fill="#2d4327" stroke="#2d4327"><text x="387.4" y="115.6">SV</text><text x="387.4" y="133.4">44.1%</text></g>
<g fill="#223f24" stroke="#223f24"><text x="451.9" y="86.8">BT</text><text x="451.9" y="104.6">50.9%</text></g>
<g fill="#2c4227" stroke="#2c4227"><text x="484.3" y="142.9">IS</text><text x="484.3" y="160.7">44.9%</text></g>
<g fill="#2c4227" stroke="#2c4227"><text x="426.9" y="169.6">NT</text><text x="426.9" y="187.5">44.8%</text></g>
<g fill="#254025" stroke="#254025"><text x="157.3" y="177.8">BH</text><text x="157.3" y="195.7">49.1%</text></g>
<g fill="#344529" stroke="#344529"><text x="219" y="154.7">SJ</text><text x="219" y="172.3">39.9%</text></g>
<g fill="#1e3e22" stroke="#1e3e22"><text x="244.5" y="192.5">CJ</text><text x="244.5" y="210.3">53.4%</text></g>
<g fill="#2c4227" stroke="#2c4227"><text x="310.7" y="216.7">MS</text><text x="310.7" y="234.2">45.1%</text></g>
<g fill="#1d3e22" stroke="#1d3e22"><text x="373.9" y="211.8">HR</text><text x="373.9" y="229.4">54.6%</text></g>
<g fill="#223f23" stroke="#223f23"><text x="455.4" y="223.7">BC</text><text x="455.4" y="241.6">51.5%</text></g>
<g fill="#334529" stroke="#334529"><text x="523.3" y="212.8">VS</text><text x="523.3" y="230.4">40.4%</text></g>
<g fill="#304328" stroke="#304328"><text x="131.8" y="232.7">AR</text><text x="131.8" y="251">42.6%</text></g>
<g fill="#2c4227" stroke="#2c4227"><text x="238.3" y="242.7">AB</text><text x="238.3" y="260.5">44.8%</text></g>
<g fill="#2f4328" stroke="#2f4328"><text x="289.6" y="280.7">SB</text><text x="289.6" y="298.6">43.4%</text></g>
<g fill="#264025" stroke="#264025"><text x="354.2" y="281.6">BV</text><text x="354.2" y="299.2">49.0%</text></g>
<g fill="#344529" stroke="#344529"><text x="411.6" y="271.7">CV</text><text x="411.6" y="289.5">40.1%</text></g>
<g fill="#264025" stroke="#264025"><text x="466.7" y="279.6">VN</text><text x="466.7" y="297.2">49.0%</text></g>
<g fill="#274125" stroke="#274125"><text x="525.3" y="277">GL</text><text x="525.3" y="294.5">48.3%</text></g>
<g fill="#2c4227" stroke="#2c4227"><text x="92.3" y="286.7">TM</text><text x="92.3" y="304">45.1%</text></g>
<g fill="#2e4327" stroke="#2e4327"><text x="204.5" y="286.7">HD</text><text x="204.5" y="304">43.6%</text></g>
<g fill="#454a2f" stroke="#454a2f"><text x="146.6" y="343.5">CS</text><text x="146.6" y="360.6">29.7%</text></g>
<g fill="#284125" stroke="#284125"><text x="232.8" y="356.8">GJ</text><text x="232.8" y="374">47.6%</text></g>
<g fill="#2a4226" stroke="#2a4226"><text x="284.6" y="348.2">VL</text><text x="284.6" y="365.5">46.0%</text></g>
<g fill="#2e4327" stroke="#2e4327"><text x="329.5" y="348.6">AG</text><text x="329.5" y="366">43.6%</text></g>
<g fill="#2e4327" stroke="#2e4327"><text x="373.2" y="373.9">DB</text><text x="373.2" y="391.4">43.6%</text></g>
<g fill="#163c1f" stroke="#163c1f"><text x="409" y="344.6">PH</text><text x="409" y="362.5">58.5%</text></g>
<g fill="#2a4226" stroke="#2a4226"><text x="458.8" y="330.3">BZ</text><text x="458.8" y="347.7">46.2%</text></g>
<g fill="#2e4327" stroke="#2e4327"><text x="522.8" y="343">BR</text><text x="522.8" y="360.3">44.0%</text></g>
<g fill="#334529" stroke="#334529"><text x="576.9" y="350.1">TL</text><text x="576.9" y="367.2">40.4%</text></g>
<g fill="#35452a" stroke="#35452a"><text x="203.5" y="398.9">MH</text><text x="203.5" y="416.2">39.2%</text></g>
<g fill="#1f3e22" stroke="#1f3e22"><text x="249.4" y="434.8">DJ</text><text x="249.4" y="452.2">53.1%</text></g>
<g fill="#2b4226" stroke="#2b4226"><text x="309.2" y="417.5">OT</text><text x="309.2" y="434.8">45.6%</text></g>
<g fill="#213f23" stroke="#213f23"><text x="354.2" y="447.5">TR</text><text x="354.2" y="465.5">51.6%</text></g>
<g fill="#4a4b31" stroke="#4a4b31"><text x="404.4" y="437.6">GR</text><text x="404.4" y="455.5">26.7%</text></g>
<g fill="#464a2f" stroke="#464a2f"><text x="474.8" y="420">CL</text><text x="474.8" y="437">28.9%</text></g>
<g fill="#213f23" stroke="#213f23"><text x="562.9" y="424">CT</text><text x="562.9" y="441.1">52.0%</text></g>
<g fill="#324429" stroke="#324429"><text x="418" y="403.2">41.4%</text><text x="418.3" y="421.4">IF</text></g>
<g fill="#444a2f" stroke="#444a2f"><text x="493.2" y="397">IL 30.3%</text></g>
</g>
<g font-family="Liberation Sans, Arial, sans-serif" font-weight="bold" font-size="13" fill="#000" fill-opacity="0.85" text-anchor="middle" dominant-baseline="central">
<text x="643.4" y="136.6">1</text><text x="675.5" y="161.3">2</text><text x="696" y="186">3</text><text x="671" y="207">4</text><text x="643.3" y="201.5">5</text><text x="631.8" y="171.4">6</text>
</g>
<g font-family="Liberation Sans, Arial, sans-serif" font-weight="bold" font-size="12.5" fill="#111" text-anchor="middle" dominant-baseline="central">
<text x="652.8" y="63.3">București</text>
<text x="652.5" y="80.8">(52,16%)</text>
<text x="624.8" y="107">60.8%</text>
<text x="715.8" y="140.8">52.6%</text>
<text x="581.2" y="168.6">72.3%</text>
<text x="736.7" y="205.4">42.9%</text>
<text x="617.7" y="223.8">55.0%</text>
<text x="694.8" y="255.6">45.1%</text>
</g>
<text x="785.5" y="55.6" font-family="Liberation Sans, Arial, sans-serif" font-style="italic" font-size="12" fill="#222" text-anchor="end">23 Iulie 2019</text>
<rect x="28" y="503" width="631" height="17.5" fill="url(#lg)" stroke="#707070" stroke-width="2"/>
<text x="25.5" y="547.1" font-family="Liberation Sans, Arial, sans-serif" font-size="11.7" fill="#222">26.71%</text>
<text x="659.2" y="546.6" font-family="Liberation Sans, Arial, sans-serif" font-size="12.6" fill="#222" text-anchor="end">72.27%</text>
</svg>
</body></html>
